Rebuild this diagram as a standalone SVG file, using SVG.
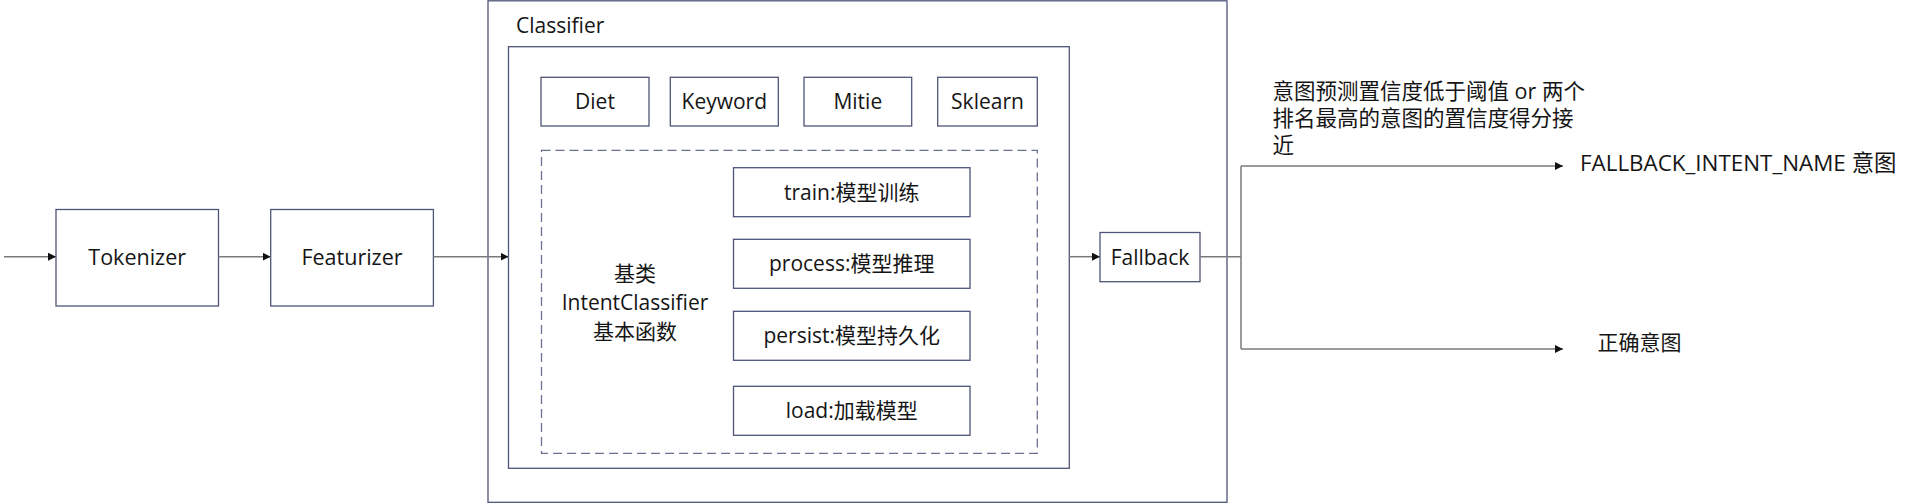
<svg xmlns="http://www.w3.org/2000/svg" width="1920" height="504" viewBox="0 0 1920 504">
<style>
  .box{fill:#ffffff;stroke:#4e5578;stroke-width:1.3}
  .dash{fill:none;stroke:#6a7090;stroke-width:1.3;stroke-dasharray:9 5}
  .t{font-family:"Open Sans","Noto Sans CJK SC",sans-serif;font-size:21px;fill:#151515}
  .c{text-anchor:middle}
  .conn{fill:none;stroke:#7a7a7a;stroke-width:1.5}
</style>
<defs>
  <marker id="arr" viewBox="0 0 10 10" refX="10" refY="5" markerWidth="8" markerHeight="8" markerUnits="userSpaceOnUse" orient="auto">
    <path d="M0,0 L10,5 L0,10 z" fill="#111"/>
  </marker>
</defs>
<rect width="1920" height="504" fill="#ffffff"/>

<g id="classifier">
  <rect class="box" x="488" y="0.8" width="739" height="501.5"/>
  <text class="t" x="516" y="33">Classifier</text>
  <rect class="box" x="508.5" y="46.7" width="560.8" height="421.6"/>
</g>

<g id="tokenizer">
  <rect class="box" x="56" y="209.5" width="162.5" height="96.5"/>
  <text class="t c" x="137.2" y="264.5" style="font-size:21.5px">Tokenizer</text>
</g>
<g id="featurizer">
  <rect class="box" x="270.7" y="209.5" width="162.7" height="96.5"/>
  <text class="t c" x="352" y="264.5" style="font-size:21.5px">Featurizer</text>
</g>

<g id="diet">
  <rect class="box" x="541" y="77.3" width="108" height="48.7"/>
  <text class="t c" x="595" y="109.3">Diet</text>
</g>
<g id="keyword">
  <rect class="box" x="670.3" y="77.3" width="108" height="48.7"/>
  <text class="t c" x="724.3" y="109.3">Keyword</text>
</g>
<g id="mitie">
  <rect class="box" x="804" y="77.3" width="107.7" height="48.7"/>
  <text class="t c" x="857.8" y="109.3">Mitie</text>
</g>
<g id="sklearn">
  <rect class="box" x="937.7" y="77.3" width="99.6" height="48.7"/>
  <text class="t c" x="987.5" y="109.3">Sklearn</text>
</g>

<g id="base-class">
  <rect class="dash" x="541.5" y="150.3" width="495.8" height="303"/>
  <text class="t c" x="635" y="281">基类</text>
  <text class="t c" x="635" y="310">IntentClassifier</text>
  <text class="t c" x="635" y="339">基本函数</text>
</g>
<g id="train">
  <rect class="box" x="733.5" y="167.7" width="236.5" height="49"/>
  <text class="t c" x="851.7" y="199.7">train:模型训练</text>
</g>
<g id="process">
  <rect class="box" x="733.5" y="239.3" width="236.5" height="49"/>
  <text class="t c" x="851.7" y="271.3">process:模型推理</text>
</g>
<g id="persist">
  <rect class="box" x="733.5" y="311.3" width="236.5" height="49"/>
  <text class="t c" x="851.7" y="343.3">persist:模型持久化</text>
</g>
<g id="load">
  <rect class="box" x="733.5" y="386.3" width="236.5" height="49"/>
  <text class="t c" x="851.7" y="418.3">load:加载模型</text>
</g>

<g id="fallback">
  <rect class="box" x="1100" y="232.5" width="100" height="49.2"/>
  <text class="t c" x="1150" y="264.7">Fallback</text>
</g>

<g id="labels">
  <text class="t" x="1272.5" y="99" style="font-size:21.5px">意图预测置信度低于阈值 or 两个</text>
  <text class="t" x="1272.5" y="126" style="font-size:21.5px">排名最高的意图的置信度得分接</text>
  <text class="t" x="1272.5" y="153" style="font-size:21.5px">近</text>
  <text class="t" x="1580" y="171" style="font-size:22.4px">FALLBACK_INTENT_NAME 意图</text>
  <text class="t" x="1597.5" y="349.5">正确意图</text>
</g>

<g id="connectors">
  <path class="conn" d="M4,256.7 H56" marker-end="url(#arr)"/>
  <path class="conn" d="M218.5,256.7 H270.7" marker-end="url(#arr)"/>
  <path class="conn" d="M433.4,256.7 H508.5" marker-end="url(#arr)"/>
  <path class="conn" d="M1069.3,256.7 H1100" marker-end="url(#arr)"/>
  <path class="conn" d="M1200,256.7 H1241 M1241,166 V349"/>
  <path class="conn" d="M1241,166 H1563" marker-end="url(#arr)"/>
  <path class="conn" d="M1241,349 H1563" marker-end="url(#arr)"/>
</g>
</svg>
